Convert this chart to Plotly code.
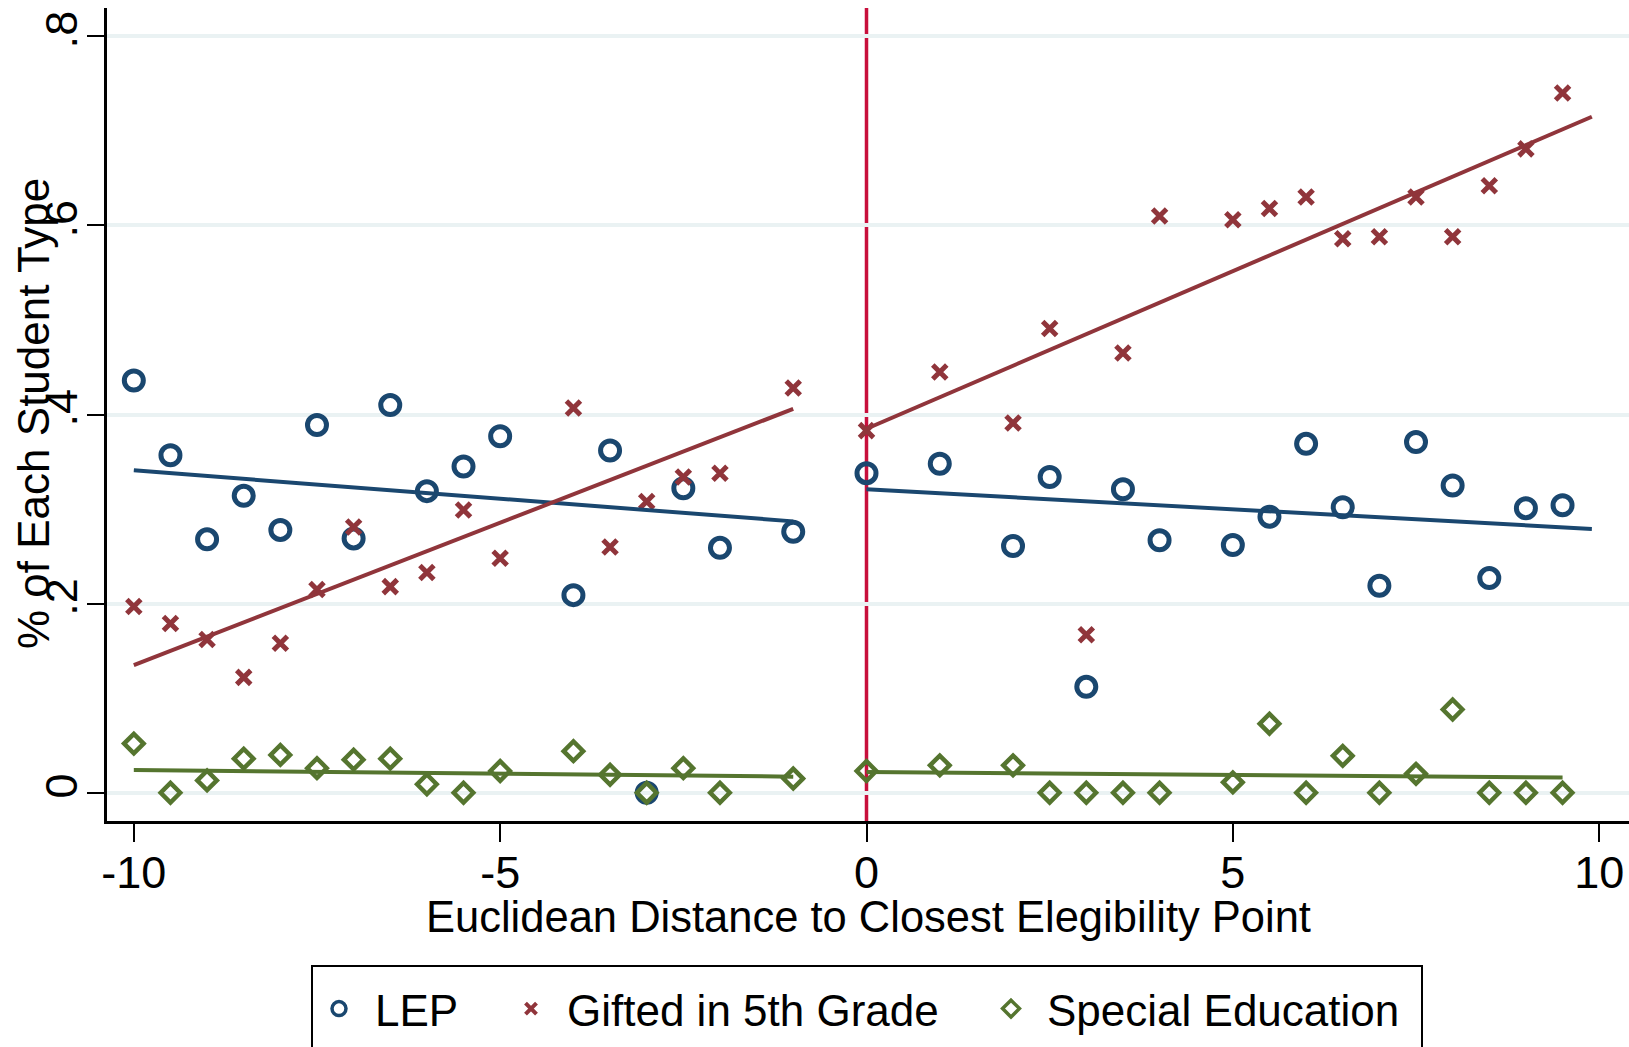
import plotly.graph_objects as go

# Bin centres: distance to the closest eligibility point
distance = [-10, -9.5, -9, -8.5, -8, -7.5, -7, -6.5, -6, -5.5, -5, -4, -3.5, -3, -2.5, -2, -1,
            0, 1, 2, 2.5, 3, 3.5, 4, 5, 5.5, 6, 6.5, 7, 7.5, 8, 8.5, 9, 9.5]

# Share of each student type per bin
lep = [0.436, 0.357, 0.268, 0.314, 0.278, 0.389, 0.269, 0.410, 0.319, 0.345, 0.377, 0.209, 0.362, 0.0,
       0.322, 0.259, 0.276,
       0.338, 0.348, 0.261, 0.334, 0.112, 0.321, 0.267, 0.262, 0.292, 0.369, 0.302, 0.219, 0.371,
       0.325, 0.227, 0.301, 0.304]
gifted = [0.197, 0.179, 0.162, 0.122, 0.158, 0.215, 0.281, 0.218, 0.233, 0.299, 0.248, 0.407, 0.260,
          0.308, 0.334, 0.338, 0.428,
          0.383, 0.445, 0.391, 0.491, 0.167, 0.465, 0.610, 0.606, 0.618, 0.630, 0.586, 0.588, 0.630,
          0.588, 0.642, 0.681, 0.740]
special = [0.052, 0.0, 0.013, 0.036, 0.040, 0.026, 0.035, 0.036, 0.009, 0.0, 0.023, 0.044, 0.019, 0.0,
           0.026, 0.0, 0.015,
           0.023, 0.029, 0.029, 0.0, 0.0, 0.0, 0.0, 0.011, 0.073, 0.0, 0.039, 0.0, 0.020, 0.088, 0.0,
           0.0, 0.0]

# Linear fits on each side of the cutoff (end points)
fit_left_x = [-10, -1]
fit_right_x = [0, 9.9]
fit_right_x_special = [0, 9.5]
lep_fit_left = [0.341, 0.287]
lep_fit_right = [0.321, 0.279]
gifted_fit_left = [0.135, 0.406]
gifted_fit_right = [0.385, 0.715]
special_fit_left = [0.024, 0.017]
special_fit_right = [0.022, 0.016]

x_ticks = [-10, -5, 0, 5, 10]
x_tick_text = ["-10", "-5", "0", "5", "10"]
y_ticks = [0, 0.2, 0.4, 0.6, 0.8]
y_tick_text = ["0", ".2", ".4", ".6", ".8"]

NAVY = "#1a476f"
MAROON = "#90353b"
GREEN = "#55752f"
CUTOFF = "#c80f3c"
GRID = "#eaf2f3"
FONT = "Liberation Sans, Arial, sans-serif"

fig = go.Figure()

# Scatter markers
fig.add_trace(go.Scatter(x=distance, y=lep, mode="markers", showlegend=False,
                         marker=dict(symbol="circle-open", size=19, color=NAVY,
                                     line=dict(width=5, color=NAVY))))
fig.add_trace(go.Scatter(x=distance, y=gifted, mode="markers", showlegend=False,
                         marker=dict(symbol="x-thin-open", size=14, color=MAROON,
                                     line=dict(width=5, color=MAROON))))
fig.add_trace(go.Scatter(x=distance, y=special, mode="markers", showlegend=False,
                         marker=dict(symbol="diamond-open", size=15, color=GREEN,
                                     line=dict(width=4.5, color=GREEN))))

# Fitted lines
for xs, ys, col in [(fit_left_x, lep_fit_left, NAVY), (fit_right_x, lep_fit_right, NAVY),
                    (fit_left_x, gifted_fit_left, MAROON), (fit_right_x, gifted_fit_right, MAROON),
                    (fit_left_x, special_fit_left, GREEN),
                    (fit_right_x_special, special_fit_right, GREEN)]:
    fig.add_trace(go.Scatter(x=xs, y=ys, mode="lines", showlegend=False,
                             line=dict(color=col, width=4)))

# Legend entries (one legend per key so each can be placed on its own)
fig.add_trace(go.Scatter(x=[None], y=[None], mode="markers", name="LEP", legend="legend",
                         marker=dict(symbol="circle-open", size=14, color=NAVY,
                                     line=dict(width=3.5, color=NAVY))))
fig.add_trace(go.Scatter(x=[None], y=[None], mode="markers", name="Gifted in 5th Grade",
                         legend="legend2",
                         marker=dict(symbol="x-thin-open", size=11, color=MAROON,
                                     line=dict(width=4, color=MAROON))))
fig.add_trace(go.Scatter(x=[None], y=[None], mode="markers", name="Special Education",
                         legend="legend3",
                         marker=dict(symbol="diamond-open", size=13, color=GREEN,
                                     line=dict(width=3.5, color=GREEN))))

W, H = 1629, 1047
ML, MR, MT, MB = 107, 0, 8, 226
PW, PH = W - ML - MR, H - MT - MB


def px_x(px):
    return (px - ML) / PW


def px_y(py):
    return (H - MB - py) / PH


ITEM_W = 62
MARK_OFF = ITEM_W / 2 + 5

legend_common = dict(orientation="v", bgcolor="rgba(0,0,0,0)", borderwidth=0,
                     font=dict(family=FONT, size=44, color="black"),
                     xanchor="left", yanchor="middle", y=px_y(1009), itemwidth=ITEM_W)

fig.update_layout(
    width=W, height=H,
    margin=dict(l=ML, r=MR, t=MT, b=MB),
    paper_bgcolor="white", plot_bgcolor="white",
    font=dict(family=FONT, size=45, color="black"),
    legend=dict(x=px_x(339 - MARK_OFF), **legend_common),
    legend2=dict(x=px_x(531 - MARK_OFF), **legend_common),
    legend3=dict(x=px_x(1011 - MARK_OFF), **legend_common),
    xaxis=dict(range=[-10.366, 10.407], tickvals=x_ticks, ticktext=x_tick_text,
               ticks="outside", ticklen=18, tickwidth=2, tickcolor="black", showline=True,
               linecolor="black", linewidth=2.5, showgrid=False, zeroline=False,
               ticklabelstandoff=-8, tickfont=dict(size=45, family=FONT)),
    yaxis=dict(range=[-0.0299, 0.830], tickvals=y_ticks, ticktext=y_tick_text, ticks="outside",
               ticklen=17, tickwidth=2, tickcolor="black", showline=True, linecolor="black",
               linewidth=2.5, showgrid=True, gridcolor=GRID, gridwidth=4, zeroline=False,
               tickangle=-90, ticklabelstandoff=-8, tickfont=dict(size=45, family=FONT)),
    shapes=[
        dict(type="line", xref="x", yref="paper", x0=0, x1=0, y0=0, y1=1,
             line=dict(color=CUTOFF, width=3.5), layer="below"),
        dict(type="rect", xref="paper", yref="paper", x0=px_x(312), x1=px_x(1422),
             y0=px_y(1100), y1=px_y(966), line=dict(color="black", width=2),
             fillcolor="rgba(0,0,0,0)", layer="above"),
    ],
    annotations=[
        dict(text="Euclidean Distance to Closest Elegibility Point", xref="paper", yref="paper",
             x=0.5, y=px_y(917), xanchor="center", yanchor="middle", showarrow=False,
             font=dict(size=43.5, family=FONT)),
        dict(text="% of Each Student Type", xref="paper", yref="paper", x=px_x(33),
             y=px_y(414), xanchor="center", yanchor="middle", textangle=-90, showarrow=False,
             font=dict(size=44, family=FONT)),
    ],
)

fig.write_html("out.html")
